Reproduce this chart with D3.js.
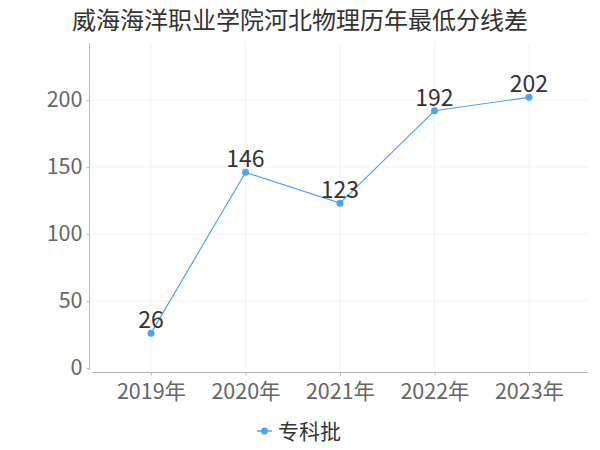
<!DOCTYPE html>
<html><head><meta charset="utf-8">
<script src="https://cdn.jsdelivr.net/npm/d3@7"></script>
<style>body{margin:0;background:#fff}svg{display:block}</style>
</head><body>
<svg id="c" width="600" height="450"></svg>
<script>
const title = "威海海洋职业学院河北物理历年最低分线差";
const categories = ["2019年","2020年","2021年","2022年","2023年"];
const seriesName = "专科批";
const values = [26, 146, 123, 192, 202];
const yTicks = [0, 50, 100, 150, 200];

const svg = d3.select("#c");
const font = "'Noto Sans CJK SC','Noto Sans',sans-serif";
const color = "#4ea3f3";

const x = d3.scalePoint().domain(categories).range([151, 529]);
const y = d3.scaleLinear().domain([0, 200]).range([368, 100]);

// title
svg.append("text").attr("x", 300).attr("y", 29).attr("text-anchor", "middle")
  .attr("font-family", font).attr("font-size", 24).attr("fill", "#333").text(title);

// grid
const g = svg.append("g");
g.selectAll(".hg").data(yTicks.filter(d => d > 0)).join("line")
  .attr("x1", 92).attr("x2", 588).attr("y1", d => y(d)).attr("y2", d => y(d))
  .attr("stroke", "#f3f3f3").attr("stroke-width", 1);
g.selectAll(".vg").data(categories).join("line")
  .attr("x1", d => x(d)).attr("x2", d => x(d)).attr("y1", 43).attr("y2", 371)
  .attr("stroke", "#f3f3f3").attr("stroke-width", 1);

// y axis
const ya = svg.append("g").attr("transform", "translate(89.5,0)")
  .call(d3.axisLeft(y).tickValues(yTicks).tickSize(3).tickPadding(4));
ya.select(".domain").remove();
ya.append("line").attr("x1", 0).attr("x2", 0).attr("y1", 43).attr("y2", 370).attr("stroke", "#bbb");
ya.selectAll(".tick line").attr("stroke", "#bbb");
ya.selectAll(".tick text").attr("font-family", font).attr("font-size", 21.5).attr("fill", "#666");

// x axis
const xa = svg.append("g").attr("transform", "translate(0,372.5)")
  .call(d3.axisBottom(x).tickSize(3).tickPadding(8));
xa.select(".domain").remove();
xa.append("line").attr("x1", 92).attr("x2", 588).attr("stroke", "#bbb");
xa.selectAll(".tick line").attr("stroke", "#bbb");
xa.selectAll(".tick text").attr("font-family", font).attr("font-size", 21.5).attr("fill", "#666");

// line
const line = d3.line().x((d, i) => x(categories[i])).y(d => y(d));
svg.append("path").datum(values).attr("d", line).attr("fill", "none")
  .attr("stroke", color).attr("stroke-width", 1.2);
svg.selectAll(".pt").data(values).join("circle")
  .attr("cx", (d, i) => x(categories[i])).attr("cy", d => y(d)).attr("r", 3.5).attr("fill", color);
svg.selectAll(".lbl").data(values).join("text")
  .attr("x", (d, i) => x(categories[i])).attr("y", d => y(d) - 5)
  .attr("text-anchor", "middle").attr("font-family", font).attr("font-size", 23).attr("fill", "#333")
  .text(d => d);

// legend
const lg = svg.append("g");
lg.append("line").attr("x1", 257).attr("x2", 272).attr("y1", 431).attr("y2", 431).attr("stroke", color).attr("stroke-width", 1.5);
lg.append("circle").attr("cx", 264.5).attr("cy", 431).attr("r", 3.5).attr("fill", color);
lg.append("text").attr("x", 278).attr("y", 439).attr("font-family", font).attr("font-size", 21).attr("fill", "#333").text(seriesName);
</script>
</body></html>
